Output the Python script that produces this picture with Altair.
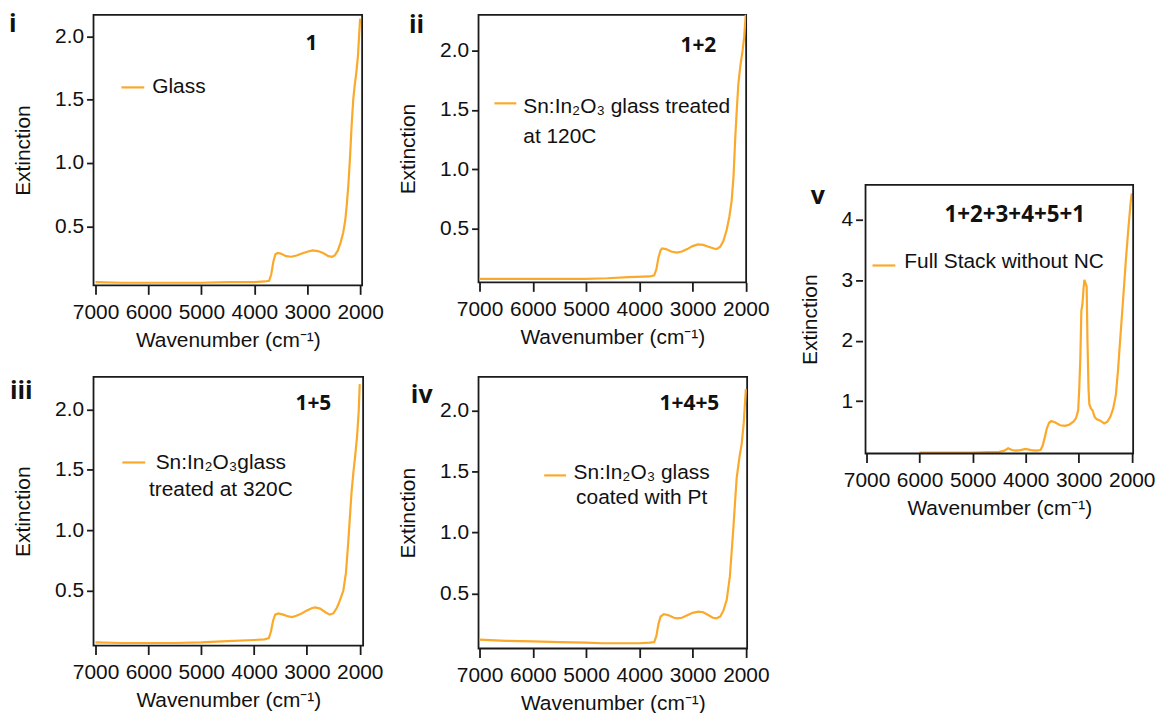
import altair as alt
import pandas as pd

LINE_COLOR = "#FBA92A"
FONT = "Liberation Sans"
BOLD_FONT = "Open Sans"
FRAME = "#1a1a1a"

# ---------------- data ----------------
wn_i = [7000, 6500, 6000, 5500, 5000, 4500, 4000, 3800, 3720, 3680, 3640, 3600, 3560, 3500, 3400, 3300,
        3200, 3100, 3000, 2900, 2800, 2700, 2600, 2530, 2480, 2420, 2370, 2320, 2280, 2250, 2220, 2190,
        2160, 2130, 2100, 2070, 2040, 2020, 2000]
ext_i = [0.06, 0.055, 0.055, 0.055, 0.055, 0.06, 0.06, 0.065, 0.07, 0.12, 0.22, 0.28, 0.29, 0.285, 0.265, 0.26,
         0.27, 0.285, 0.30, 0.31, 0.305, 0.29, 0.265, 0.26, 0.27, 0.31, 0.37, 0.45, 0.55, 0.68, 0.84, 1.05,
         1.3, 1.5, 1.62, 1.72, 1.85, 2.0, 2.14]

wn_ii = [7000, 6000, 5000, 4600, 4200, 3800, 3720, 3680, 3640, 3600, 3570, 3500, 3400, 3300, 3200, 3100,
         3000, 2900, 2800, 2700, 2600, 2550, 2480, 2420, 2360, 2310, 2265, 2230, 2200, 2170, 2140, 2100,
         2060, 2030, 2000]
ext_ii = [0.08, 0.08, 0.08, 0.085, 0.095, 0.10, 0.11, 0.16, 0.26, 0.32, 0.335, 0.33, 0.31, 0.30, 0.31, 0.33,
          0.355, 0.37, 0.365, 0.35, 0.335, 0.33, 0.35, 0.40, 0.49, 0.6, 0.74, 0.95, 1.25, 1.5, 1.72, 1.88,
          2.0, 2.12, 2.31]

wn_iii = [7000, 6500, 6000, 5500, 5000, 4500, 4000, 3800, 3720, 3680, 3640, 3600, 3540, 3450, 3350, 3280,
          3200, 3100, 3000, 2900, 2840, 2750, 2650, 2570, 2500, 2440, 2400, 2350, 2310, 2260, 2216, 2180,
          2154, 2120, 2090, 2050, 2020, 2000]
ext_iii = [0.07, 0.065, 0.065, 0.065, 0.07, 0.08, 0.09, 0.095, 0.105, 0.16, 0.25, 0.30, 0.31, 0.30, 0.285, 0.28,
           0.29, 0.31, 0.335, 0.355, 0.36, 0.35, 0.32, 0.30, 0.31, 0.35, 0.39, 0.45, 0.5, 0.65, 0.91, 1.15,
           1.32, 1.48, 1.6, 1.78, 1.98, 2.21]

wn_iv = [7000, 6500, 6000, 5500, 5000, 4700, 4400, 4000, 3800, 3720, 3680, 3640, 3600, 3540, 3450, 3350,
         3290, 3200, 3100, 3000, 2890, 2800, 2700, 2620, 2550, 2480, 2420, 2360, 2300, 2234, 2200, 2172,
         2120, 2078, 2040, 2000]
ext_iv = [0.12, 0.11, 0.105, 0.1, 0.095, 0.09, 0.09, 0.09, 0.095, 0.1, 0.15, 0.25, 0.31, 0.33, 0.32, 0.30,
          0.295, 0.30, 0.32, 0.34, 0.35, 0.345, 0.32, 0.30, 0.295, 0.31, 0.36, 0.445, 0.64, 1.04, 1.27, 1.45,
          1.62, 1.73, 1.9, 2.18]

wn_v = [6000, 5500, 5000, 4700, 4500, 4400, 4330, 4260, 4200, 4100, 4000, 3900, 3800, 3720, 3680, 3640,
        3600, 3560, 3520, 3450, 3350, 3260, 3180, 3100, 3050, 3010, 2990, 2970, 2950, 2930, 2910, 2893,
        2870, 2850, 2835, 2815, 2800, 2770, 2740, 2700, 2660, 2600, 2520, 2460, 2400, 2350, 2300, 2260,
        2220, 2170, 2110, 2060, 2020, 2000]
ext_v = [0.15, 0.15, 0.15, 0.155, 0.16, 0.18, 0.22, 0.19, 0.18, 0.19, 0.21, 0.19, 0.18, 0.19, 0.26, 0.40,
         0.55, 0.64, 0.67, 0.65, 0.60, 0.59, 0.61, 0.66, 0.72, 0.85, 1.2, 1.7, 2.5, 2.6, 2.85, 3.01,
         2.95, 2.9, 2.0, 1.2, 0.95, 0.88, 0.85, 0.74, 0.70, 0.68, 0.63, 0.66, 0.75, 0.88, 1.1, 1.5,
         2.0, 2.6, 3.35, 3.9, 4.3, 4.44]

x_ticks = [7000, 6000, 5000, 4000, 3000, 2000]
y_ticks_small = [0.5, 1.0, 1.5, 2.0]
y_ticks_big = [1, 2, 3, 4]

labels = ["i", "ii", "iii", "iv", "v"]
tags = ["1", "1+2", "1+5", "1+4+5", "1+2+3+4+5+1"]
legend_texts = [
    ["Glass"],
    ["Sn:In\u2082O\u2083 glass treated", "at 120C"],
    ["Sn:In\u2082O\u2083glass", "treated at 320C"],
    ["Sn:In\u2082O\u2083 glass", "coated with Pt"],
    ["Full Stack without NC"],
]

X_TITLE = "Wavenumber (cm\u207b\u00b9)"
Y_TITLE = "Extinction"


def text_layer(txt, x, y, align="left", bold=False, size=21):
    return alt.Chart(pd.DataFrame({"t": [txt]})).mark_text(
        align=align, baseline="middle", font=BOLD_FONT if bold else FONT,
        fontWeight="bold" if bold else "normal", fontSize=size, color="#111111"
    ).encode(x=alt.value(x), y=alt.value(y), text="t:N")


def panel(wn, ext, xdom, ydom, yticks, yfmt, w, h, label, lab_xy, tag, tag_xy, tag_size,
          leg_lines, leg_x, leg_align, leg_y, leg_dy, sample_x, sample_y, frame=None):
    """frame: (x0, x1, top, bottom) in pixels when the plot box is shifted inside its cell."""
    df = pd.DataFrame({"wn": wn, "ext": ext})
    xs = dict(domain=[xdom[1], xdom[0]], reverse=True, nice=False, zero=False)
    ys = dict(domain=ydom, nice=False, zero=False)
    yaxis = dict(values=yticks, format=yfmt, title=Y_TITLE, tickSize=7, labelPadding=3, titlePadding=21)
    dy = 0
    dx = 0
    if frame is not None:
        x0, x1, top, bottom = frame
        xs = dict(domain=[xdom[0], xdom[1]], nice=False, zero=False, range=[x0, x1])
        ys["range"] = [bottom, top]
        yaxis["titleY"] = (top + bottom) / 2
        dy = top
        dx = x0
    line = alt.Chart(df).mark_line(color=LINE_COLOR, strokeWidth=2.2, clip=frame is None).encode(
        x=alt.X("wn:Q", scale=alt.Scale(**xs),
                axis=alt.Axis(values=x_ticks, format="d", title=X_TITLE, tickSize=9,
                              labelPadding=7, titlePadding=7)),
        y=alt.Y("ext:Q", scale=alt.Scale(**ys), axis=alt.Axis(**yaxis)),
    )
    layers = [line]
    if frame is not None:
        x0, x1, top, bottom = frame
        layers.append(alt.Chart(pd.DataFrame({"k": [0]})).mark_rect(
            filled=False, stroke=FRAME, strokeWidth=1.8).encode(
            x=alt.value(x0), x2=alt.value(x1), y=alt.value(top), y2=alt.value(bottom)))
    sample = alt.Chart(pd.DataFrame({"k": [0]})).mark_rule(color=LINE_COLOR, strokeWidth=2.2).encode(
        x=alt.value(dx + sample_x[0]), x2=alt.value(dx + sample_x[1]), y=alt.value(dy + sample_y))
    layers.append(sample)
    for k, t in enumerate(leg_lines):
        layers.append(text_layer(t, dx + leg_x, dy + leg_y + k * leg_dy, align=leg_align))
    layers.append(text_layer(tag, dx + tag_xy[0], dy + tag_xy[1], align="center", bold=True, size=tag_size))
    layers.append(text_layer(label, dx + lab_xy[0], dy + lab_xy[1], align="left", bold=True, size=25))
    ch = alt.layer(*layers).properties(width=w, height=h)
    if frame is not None:
        ch = ch.properties(view=alt.ViewBackground(strokeOpacity=0))
    return ch


def spacer(w, h):
    return alt.Chart(pd.DataFrame({"a": [0]})).mark_point(opacity=0, size=1).encode(
        x=alt.value(1), y=alt.value(1)
    ).properties(width=w, height=h, view=alt.ViewBackground(strokeOpacity=0))


p1 = panel(wn_i, ext_i, [7038, 1962], [0.034, 2.17], y_ticks_small, ".1f", 270, 272,
           labels[0], (-85, 9), tags[0], (219, 29), 21, legend_texts[0], 59, "left", 73, 30, (28, 51), 73)
p2 = panel(wn_ii, ext_ii, [7019, 1994], [0.05, 2.30], y_ticks_small, ".1f", 269, 269,
           labels[1], (-70, 10), tags[1], (221, 31), 21, legend_texts[1], 45, "left", 93, 30, (16, 38), 89)
p3 = panel(wn_iii, ext_iii, [7038, 1936], [0.044, 2.27], y_ticks_small, ".1f", 271, 270,
           labels[2], (-84, 14), tags[2], (221, 27), 21, legend_texts[2], 128, "center", 87, 27, (29, 52), 86)
p4 = panel(wn_iv, ext_iv, [7019, 1976], [0.047, 2.28], y_ticks_small, ".1f", 270, 273,
           labels[3], (-68, 18), tags[3], (212, 27), 21, legend_texts[3], 164, "center", 97, 25, (66, 88), 99)
# panel v sits in the second grid row; its plot box is lifted above the cell origin
p5 = panel(wn_v, ext_v, [7019, 1974], [0.133, 4.58], y_ticks_big, "d", 272, 77,
           labels[4], (-55, 11), tags[4], (150, 30), 22.5, legend_texts[4], 39, "left", 78, 30, (7, 30), 81,
           frame=(3, 272, -193, 77))

chart = alt.concat(
    p1, p2, spacer(269, 10),
    p3, p4, p5,
    columns=3, spacing={"row": 92, "column": 116}, align="none", bounds="flush"
).properties(
    padding={"left": 8, "top": 9, "right": 5, "bottom": 5}, background="white"
).configure_view(
    stroke=FRAME, strokeWidth=1.8
).configure_axis(
    domain=False, tickColor=FRAME, tickWidth=1.8, labelFont=FONT, titleFont=FONT,
    labelFontSize=21, titleFontSize=21, labelColor="#111111", titleColor="#111111",
    titleFontWeight="normal", labelOverlap=False, labelFlush=False, grid=False
)

chart.save("out.html", embed_options={"renderer": "svg", "actions": False})
